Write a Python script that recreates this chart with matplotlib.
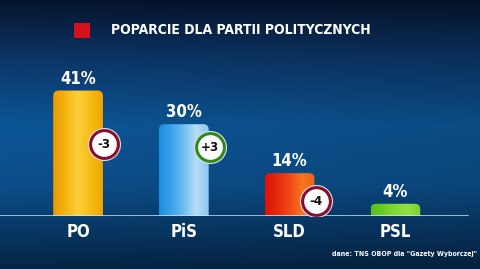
import numpy as np
import matplotlib
matplotlib.use("Agg")
import matplotlib.pyplot as plt
from matplotlib.patches import FancyBboxPatch
from matplotlib.colors import LinearSegmentedColormap

plt.rcParams['font.family'] = ['DejaVu Sans']
plt.rcParams['font.stretch'] = 'condensed'

# data
parties = ['PO', 'PiS', 'SLD', 'PSL']
support = [41, 30, 14, 4]
change = ['-3', '+3', '-4', None]
title = 'POPARCIE DLA PARTII POLITYCZNYCH'
source = 'dane: TNS OBOP dla "Gazety Wyborczej"'

# look
bar_colors = [
    ['#e99a00', '#f5b512', '#fbcf3a', '#f7bd18', '#efa600'],
    ['#1b8ee0', '#3aa3ec', '#70bff2', '#b9ddf7', '#8ec8f2'],
    ['#dc1208', '#e82a10', '#f04a18', '#f6781e', '#f0601a'],
    ['#58c01a', '#6ccd22', '#84da34', '#94e044', '#7ad22a'],
]
ring_colors = ['#8a0c30', '#2f8a1e', '#8a0c30', None]
badge_y = [23.5, 22.5, 4.9, 0]

fig = plt.figure(figsize=(4.8, 2.69), dpi=100)

# background gradient
bg = fig.add_axes([0, 0, 1, 1])
stops_y = [0, 60, 125, 185, 269]
stops_c = np.array([[5, 20, 45], [12, 55, 105], [12, 86, 150], [12, 78, 138], [5, 36, 68]]) / 255
ys = np.arange(269)
col = np.stack([np.interp(ys, stops_y, stops_c[:, k]) for k in range(3)], axis=1)
xf = 1 - 0.12 * np.linspace(0, 1, 480)
img = col[:, None, :] * xf[None, :, None]
bg.imshow(np.clip(img, 0, 1), aspect='auto', extent=(0, 1, 0, 1))
bg.set_axis_off()

ax = fig.add_axes([0, 53 / 269, 1, 50 * 3.06 / 269])
ax.patch.set_alpha(0)

w = 0.47
for i, (v, cols) in enumerate(zip(support, bar_colors)):
    box = FancyBboxPatch((i - w / 2, -3), w, v + 3,
                         boxstyle='round,pad=0,rounding_size=0.05',
                         mutation_aspect=34.5, fc='none', ec='none')
    ax.add_patch(box)
    cmap = LinearSegmentedColormap.from_list('b%d' % i, cols)
    im = ax.imshow(np.linspace(0, 1, 64)[None, :], cmap=cmap, aspect='auto',
                   extent=(i - w / 2, i + w / 2, 0, v))
    im.set_clip_path(box)
    ax.annotate('%d%%' % v, (i, v), xytext=(0, 2), textcoords='offset points',
                ha='center', va='bottom', color='white', fontsize=12,
                fontweight='bold')

for i, c in enumerate(change):
    if c is None:
        continue
    x = i + 0.245
    ax.scatter([x], [badge_y[i]], s=520, facecolor='#f2f2f2', edgecolor='#dddddd',
               linewidth=1, zorder=5)
    ax.scatter([x], [badge_y[i]], s=400, facecolor='white', edgecolor=ring_colors[i],
               linewidth=2.2, zorder=6)
    ax.text(x, badge_y[i], c, ha='center', va='center', fontsize=9.5,
            fontweight='bold', color='#111111', zorder=7)

ax.set_xlim(-0.738, 3.80)
ax.set_ylim(0, 50)
ax.axhline(0, xmin=0, xmax=467 / 480, color='#cfe4f5', lw=1.8, zorder=4)
ax.set_xticks(range(len(parties)))
ax.set_xticklabels(parties, color='white', fontsize=12, fontweight='bold')
ax.tick_params(axis='x', length=0, pad=5)
ax.set_yticks([])
for s in ax.spines.values():
    s.set_visible(False)

# title with red square
fig.patches.append(plt.Rectangle((74 / 480, 1 - 38 / 269), 16 / 480, 15 / 269,
                                 transform=fig.transFigure, fc='#d4101c', ec='none'))
fig.text(111 / 480, 1 - 30 / 269, title, color='white', fontsize=10,
         fontweight='bold', va='center', ha='left')
fig.text(477 / 480, 1 - 254 / 269, source, color='white', fontsize=5,
         fontweight='bold', va='center', ha='right')

fig.savefig('out.png', dpi=100)
